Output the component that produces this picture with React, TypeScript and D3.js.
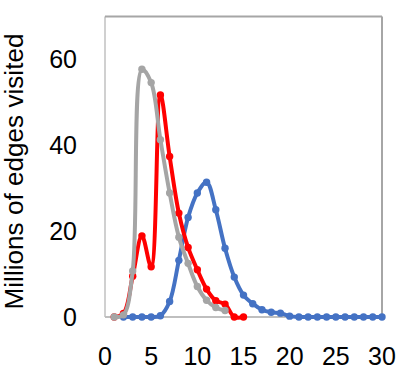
import { useEffect, useRef } from "react";
import * as d3 from "d3";

// values (x = integer step, y = millions of edges)
const blueX = [2, 3, 4, 5, 6, 7, 8, 9, 10, 11, 12, 13, 14, 15, 16, 17, 18, 19, 20, 21, 22, 23, 24, 25, 26, 27, 28, 29, 30];
const blueY = [0, 0, 0, 0, 0.3, 3.6, 13.2, 23.2, 28.9, 31.4, 25, 16, 9.3, 5.1, 3.1, 1.7, 1.1, 0.9, 0.2, 0, 0, 0, 0, 0, 0, 0, 0, 0, 0];
const redX = [1, 2, 3, 4, 5, 6, 7, 8, 9, 10, 11, 12, 13, 14, 15];
const redY = [0, 0.8, 9.5, 18.9, 11.7, 51.7, 37.4, 24.2, 16.2, 11, 6.5, 3.8, 3, 0, 0];
const grayX = [1, 2, 3, 4, 5, 6, 7, 8, 9, 10, 11, 12, 13];
const grayY = [0, 0.5, 10.7, 57.7, 54.6, 41.3, 28.9, 18.6, 12.5, 7.1, 3.9, 2.2, 1.5];

const xTicks = [0, 5, 10, 15, 20, 25, 30];
const yTicks = [0, 20, 40, 60];

const W = 415;
const H = 374;
const FONT = "'Liberation Sans', Arial, sans-serif";

const App = () => {
  const ref = useRef<SVGSVGElement>(null);

  useEffect(() => {
    const svg = d3.select(ref.current);
    svg.selectAll("*").remove();

    const x = d3.scaleLinear().domain([0, 30]).range([105, 382]);
    const y = d3.scaleLinear().domain([0, 70]).range([317, 16.5]);

    // plot frame
    svg.append("line").attr("x1", x(0)).attr("x2", x(0)).attr("y1", y(70)).attr("y2", y(0))
      .attr("stroke", "#d0d0d0").attr("stroke-width", 2);
    svg.append("line").attr("x1", x(0)).attr("x2", x(30)).attr("y1", y(70)).attr("y2", y(70))
      .attr("stroke", "#a6a6a6").attr("stroke-width", 2);
    svg.append("line").attr("x1", x(30)).attr("x2", x(30)).attr("y1", y(70)).attr("y2", y(0))
      .attr("stroke", "#a6a6a6").attr("stroke-width", 2);
    svg.append("line").attr("x1", x(0)).attr("x2", x(30)).attr("y1", y(0)).attr("y2", y(0))
      .attr("stroke", "#bfbfbf").attr("stroke-width", 2);

    const line = d3
      .line<[number, number]>()
      .x((d) => x(d[0]))
      .y((d) => y(d[1]))
      .curve(d3.curveCatmullRom);

    const series = [
      { xs: blueX, ys: blueY, color: "#4472c4" },
      { xs: redX, ys: redY, color: "#ff0000" },
      { xs: grayX, ys: grayY, color: "#a5a5a5" },
    ];

    series.forEach((s) => {
      const pts: [number, number][] = s.xs.map((v, i) => [v, s.ys[i]]);
      const g = svg.append("g");
      g.append("path")
        .attr("d", line(pts))
        .attr("fill", "none")
        .attr("stroke", s.color)
        .attr("stroke-width", 4)
        .attr("stroke-linejoin", "round")
        .attr("stroke-linecap", "round");
      g.selectAll("circle")
        .data(pts)
        .join("circle")
        .attr("cx", (d) => x(d[0]))
        .attr("cy", (d) => y(d[1]))
        .attr("r", 3.7)
        .attr("fill", s.color);
    });

    // y tick labels
    svg.append("g")
      .selectAll("text")
      .data(yTicks)
      .join("text")
      .attr("x", 77)
      .attr("y", (d) => y(d))
      .attr("dy", "0.35em")
      .attr("text-anchor", "end")
      .attr("font-family", FONT)
      .attr("font-size", 25)
      .attr("fill", "#000")
      .text((d) => d);

    // x tick labels
    svg.append("g")
      .selectAll("text")
      .data(xTicks)
      .join("text")
      .attr("x", (d) => x(d))
      .attr("y", 356)
      .attr("dy", "0.35em")
      .attr("text-anchor", "middle")
      .attr("font-family", FONT)
      .attr("font-size", 25)
      .attr("fill", "#000")
      .text((d) => d);

    // y axis title
    svg.append("text")
      .attr("transform", "translate(23, 171.5) rotate(-90)")
      .attr("text-anchor", "middle")
      .attr("font-family", FONT)
      .attr("font-size", 25)
      .attr("textLength", 276)
      .attr("lengthAdjust", "spacingAndGlyphs")
      .attr("fill", "#000")
      .text("Millions of edges visited");
  }, []);

  return (
    <svg
      ref={ref}
      width={W}
      height={H}
      style={{ position: "absolute", left: 0, top: 0, background: "#fff" }}
    ></svg>
  );
};

export default App;
